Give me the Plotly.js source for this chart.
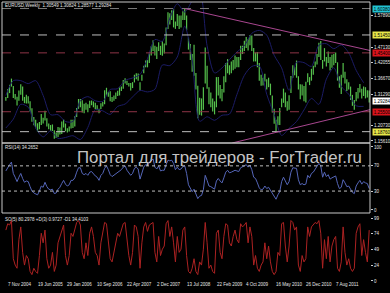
<!DOCTYPE html>
<html><head><meta charset="utf-8">
<script src="https://cdn.plot.ly/plotly-3.0.1.min.js"></script>
<style>html,body{margin:0;padding:0;background:#000;}#chart{width:390px;height:293px;}</style>
</head><body><div id="chart"></div>
<script>
const startDate = '2004-11-07';
const stepDays = 14;
const priceHigh = [1.305,1.332,1.346,1.367,1.342,1.315,1.306,1.327,1.348,1.340,
1.305,1.312,1.307,1.290,1.267,1.237,1.228,1.216,1.220,1.247,
1.235,1.258,1.233,1.215,1.210,1.212,1.192,1.185,1.203,1.202,
1.222,1.229,1.215,1.199,1.205,1.228,1.228,1.240,1.268,1.298,
1.298,1.294,1.282,1.285,1.280,1.292,1.293,1.290,1.285,1.277,
1.265,1.284,1.288,1.328,1.336,1.322,1.324,1.305,1.310,1.320,
1.326,1.337,1.340,1.362,1.368,1.360,1.352,1.352,1.355,1.380,
1.385,1.384,1.355,1.380,1.410,1.428,1.430,1.452,1.476,1.497,
1.478,1.475,1.490,1.478,1.493,1.486,1.540,1.591,1.588,1.598,
1.602,1.560,1.585,1.580,1.580,1.595,1.604,1.580,1.505,1.484,
1.450,1.481,1.386,1.343,1.302,1.300,1.338,1.472,1.410,1.338,
1.320,1.300,1.290,1.372,1.372,1.345,1.332,1.375,1.420,1.433,
1.412,1.425,1.430,1.445,1.440,1.440,1.478,1.478,1.495,1.508,
1.500,1.514,1.513,1.470,1.455,1.457,1.420,1.380,1.370,1.383,
1.365,1.370,1.350,1.310,1.265,1.228,1.240,1.268,1.300,1.333,
1.320,1.290,1.311,1.376,1.412,1.405,1.428,1.375,1.348,1.347,
1.342,1.356,1.385,1.372,1.400,1.410,1.425,1.450,1.488,1.494,
1.430,1.470,1.440,1.459,1.440,1.448,1.450,1.455,1.422,1.375,
1.380,1.420,1.390,1.365,1.355,1.340,1.312,1.295,1.322,1.335,
1.349,1.333,1.340,1.338,1.328,1.327];
const priceLow = [1.292,1.301,1.318,1.340,1.301,1.296,1.276,1.292,1.312,1.292,
1.284,1.283,1.283,1.255,1.221,1.209,1.199,1.187,1.196,1.210,
1.215,1.225,1.205,1.196,1.190,1.190,1.164,1.166,1.170,1.178,
1.180,1.202,1.189,1.185,1.188,1.198,1.200,1.205,1.237,1.265,
1.270,1.252,1.250,1.262,1.253,1.268,1.277,1.270,1.263,1.260,
1.250,1.264,1.273,1.280,1.310,1.306,1.290,1.288,1.292,1.298,
1.308,1.310,1.325,1.333,1.350,1.345,1.340,1.327,1.335,1.354,
1.365,1.360,1.326,1.360,1.385,1.405,1.405,1.420,1.445,1.460,
1.445,1.433,1.460,1.447,1.444,1.452,1.480,1.535,1.550,1.565,
1.540,1.535,1.545,1.535,1.540,1.565,1.565,1.530,1.465,1.430,
1.390,1.377,1.330,1.233,1.245,1.242,1.262,1.350,1.333,1.280,
1.270,1.256,1.246,1.270,1.310,1.300,1.290,1.320,1.355,1.385,
1.380,1.385,1.395,1.400,1.405,1.405,1.430,1.450,1.460,1.470,
1.462,1.480,1.460,1.425,1.425,1.405,1.360,1.343,1.344,1.357,
1.330,1.338,1.311,1.252,1.214,1.188,1.210,1.210,1.270,1.285,
1.270,1.258,1.262,1.318,1.370,1.378,1.370,1.330,1.297,1.310,
1.290,1.286,1.355,1.345,1.360,1.380,1.405,1.415,1.440,1.430,
1.400,1.425,1.408,1.420,1.394,1.404,1.412,1.420,1.360,1.336,
1.315,1.370,1.350,1.325,1.330,1.295,1.275,1.262,1.290,1.300,
1.320,1.300,1.308,1.300,1.303,1.286];
const bandUpper = [1.31,1.36,1.36,1.35,1.36,1.31,1.245,1.245,1.222,1.222,1.293,1.306,1.292,1.290,1.330,1.333,1.361,1.369,1.381,1.434,1.499,1.493,1.571,1.62,1.592,1.63,1.663,1.478,1.386,1.403,1.431,1.457,1.478,1.52,1.53,1.514,1.446,1.403,1.327,1.422,1.421,1.408,1.48,1.485,1.468,1.481,1.454,1.395,1.353];
const bandLower = [1.20,1.23,1.28,1.27,1.20,1.17,1.19,1.165,1.168,1.174,1.161,1.202,1.262,1.258,1.246,1.273,1.281,1.305,1.327,1.322,1.331,1.413,1.411,1.44,1.544,1.43,1.223,1.238,1.226,1.243,1.247,1.313,1.378,1.408,1.41,1.314,1.246,1.175,1.199,1.222,1.261,1.30,1.28,1.365,1.404,1.341,1.314,1.275,1.273];
const rsiValues = [62,68,72,76,58,52,45,52,58,50,
44,46,45,37,30,27,26,24,30,38,
36,44,37,33,32,33,26,27,33,36,
42,47,41,38,40,47,47,51,60,67,
67,58,56,58,55,60,61,57,54,52,
47,55,58,66,70,64,56,53,55,57,
60,62,64,68,70,63,59,55,58,66,
68,65,49,60,68,72,71,75,79,81,
68,65,70,62,63,63,72,79,78,79,
74,64,68,64,65,69,70,58,40,34,
29,33,24,18,22,23,32,55,47,38,
37,35,33,46,50,46,43,51,60,63,
59,60,61,63,62,61,67,68,70,72,
68,71,64,52,50,43,35,32,33,38,
34,36,31,25,20,17,24,29,45,52,
46,40,45,60,67,66,66,48,40,42,
40,41,55,51,58,60,65,68,74,70,
52,60,53,56,49,51,53,54,42,34,
36,48,43,37,38,33,28,26,38,43,
47,41,45,43,42,34];
const stochValues = [80,90,88,95,35,25,20,65,85,45,
25,40,35,15,10,20,15,12,40,75,
60,80,35,20,25,45,15,25,60,70,
80,88,40,25,40,75,70,80,92,95,
88,45,35,60,40,75,85,70,45,40,
25,60,75,92,90,60,35,30,45,65,
75,70,80,90,92,60,40,25,45,88,
85,70,20,60,85,92,78,88,90,92,
45,30,70,40,50,55,90,95,70,85,
60,30,70,45,50,80,85,40,15,12,
20,35,15,10,30,25,50,92,60,20,
25,15,12,75,80,45,35,70,90,88,
60,55,70,80,65,60,90,85,88,92,
60,85,70,25,40,20,15,25,30,60,
35,55,30,15,10,15,45,40,90,92,
55,30,55,95,92,80,85,25,15,40,
30,35,85,70,85,88,92,90,95,75,
20,65,35,70,30,55,65,70,20,15,
30,85,45,25,35,20,15,20,75,85,
90,40,65,45,30,80];
const priceTickVals = [1.5789,1.4713,1.4205,1.3667,1.3129,1.2073,1.1561];
const priceTickText = ['1.57890','1.47130','1.42055','1.36670','1.31290','1.20730','1.15610'];
const levelPrices = [1.6038,1.5145,1.4540,1.2550,1.1876];
const levelColors = ['#7c7c7c','#bdbdbd','#8e3447','#8e3447','#bdbdbd'];
const boxPrices = [1.6038,1.5145,1.4540,1.29284,1.2550,1.1876];
const boxText = ['1.60380','1.51450','1.45400','1.29284','1.25500','1.18760'];
const boxColors = ['#22c4d4','#e6e64a','#d8141c','#ffffff','#d8141c','#e6e64a'];
const trendUpper = {x:['2008-07-13','2012-05-05'], y:[1.6038,1.462]};
const trendLower = {x:['2009-07-05','2012-05-05'], y:[1.1494,1.262]};
const rsiTicks = [0,30,70,100];
const rsiLevels = [30,70];
const stochTicks = [0,24,49,74,99];
const dateLabelDates = ['2004-11-07','2005-06-19','2006-01-29','2006-09-10','2007-04-22','2007-12-02','2008-07-13','2009-02-22','2009-10-04','2010-05-16','2010-12-26','2011-08-07'];
const dateLabelText = ['7 Nov 2004','19 Jun 2005','29 Jan 2006','10 Sep 2006','22 Apr 2007','2 Dec 2007','13 Jul 2008','22 Feb 2009','4 Oct 2009','16 May 2010','26 Dec 2010','7 Aug 2011'];
const headerText = 'EURUSD,Weekly  1.30549 1.30824 1.28577 1.29284';
const rsiLabel = 'RSI(14) 34.2652';
const stochLabel = 'SO(5) 80.2978 +D(3) 0.9727 -D1 34.4103';
const watermark = 'Портал для трейдеров - ForTrader.ru';

const W = 390, H = 293;
const px = v => v / W;
const py = v => (H - v) / H;
const t0 = Date.UTC(2004, 10, 7);
const dates = priceHigh.map((_, i) => new Date(t0 + i * stepDays * 86400000).toISOString().slice(0, 10));
const bandDates = bandUpper.map((_, i) => dates[i * 4]);

const fontS = {family: 'Liberation Sans', size: 4.5, color: '#e6e6e6'};
const traces = [
  {type: 'scatter', mode: 'lines', x: bandDates, y: bandUpper, line: {color: '#1c1c66', width: 1, shape: 'spline', smoothing: 0.8}, xaxis: 'x', yaxis: 'y', hoverinfo: 'skip'},
  {type: 'scatter', mode: 'lines', x: bandDates, y: bandLower, line: {color: '#1c1c66', width: 1, shape: 'spline', smoothing: 0.8}, xaxis: 'x', yaxis: 'y', hoverinfo: 'skip'},
  {type: 'ohlc', x: dates, open: priceLow, high: priceHigh, low: priceLow, close: priceHigh, tickwidth: 0,
   increasing: {line: {color: '#55c04c', width: 1.2}}, decreasing: {line: {color: '#55c04c', width: 1.2}}, xaxis: 'x', yaxis: 'y'},
  {type: 'scatter', mode: 'lines', x: dates, y: rsiValues, line: {color: '#5566b8', width: 1}, xaxis: 'x', yaxis: 'y2'},
  {type: 'scatter', mode: 'lines', x: dates, y: stochValues, line: {color: '#ac2222', width: 1}, xaxis: 'x', yaxis: 'y3'}
];

const shapes = [];
levelPrices.forEach((p, i) => shapes.push({type: 'line', xref: 'paper', yref: 'y', x0: px(2), x1: px(370), y0: p, y1: p, line: {color: levelColors[i], width: 1, dash: 'dash'}}));
[trendUpper, trendLower].forEach(t => shapes.push({type: 'line', xref: 'x', yref: 'y', x0: t.x[0], x1: t.x[1], y0: t.y[0], y1: t.y[1], line: {color: '#a8468f', width: 1}}));
rsiLevels.forEach(l => shapes.push({type: 'line', xref: 'paper', yref: 'y2', x0: px(2), x1: px(370), y0: l, y1: l, line: {color: '#bdbdbd', width: 1, dash: 'dot'}}));
shapes.push({type: 'rect', xref: 'paper', yref: 'paper', x0: px(2), x1: px(370), y0: py(143), y1: py(2), line: {color: '#c8c8c8', width: 1}});
shapes.push({type: 'rect', xref: 'paper', yref: 'paper', x0: px(2), x1: px(370), y0: py(213), y1: py(143), line: {color: '#c8c8c8', width: 1}});

const annotations = [];
boxPrices.forEach((p, i) => annotations.push({xref: 'paper', yref: 'y', x: px(372), y: p, xanchor: 'left', yanchor: 'middle', text: boxText[i], showarrow: false, bgcolor: boxColors[i], font: {family: 'Liberation Sans', size: 4.5, color: '#000'}, borderpad: 0.7}));
dateLabelDates.forEach((d, i) => annotations.push({xref: 'x', yref: 'paper', x: d, y: py(284), xanchor: 'left', yanchor: 'middle', text: dateLabelText[i], showarrow: false, font: fontS}));
annotations.push({xref: 'paper', yref: 'paper', x: px(3), y: py(6), xanchor: 'left', yanchor: 'middle', text: headerText, showarrow: false, font: fontS});
annotations.push({xref: 'paper', yref: 'paper', x: px(3), y: py(147.5), xanchor: 'left', yanchor: 'middle', text: rsiLabel, showarrow: false, font: fontS});
annotations.push({xref: 'paper', yref: 'paper', x: px(3), y: py(219), xanchor: 'left', yanchor: 'middle', text: stochLabel, showarrow: false, font: fontS});
annotations.push({xref: 'paper', yref: 'paper', x: px(219), y: py(157), xanchor: 'center', yanchor: 'middle', text: watermark, showarrow: false, font: {family: 'Liberation Sans', size: 16.8, color: '#c4c4c4'}});

const yCommon = {side: 'right', anchor: 'x', showgrid: false, zeroline: false, showline: false, ticks: 'outside', ticklen: 2, tickcolor: '#cccccc', tickfont: fontS, fixedrange: true};
const layout = {
  width: W, height: H, margin: {l: 0, r: 0, t: 0, b: 0},
  paper_bgcolor: '#000', plot_bgcolor: '#000', showlegend: false,
  xaxis: {domain: [px(2), px(370)], range: ['2004-10-09', '2012-05-05'], type: 'date', showgrid: false, zeroline: false, showticklabels: false, ticks: '', rangeslider: {visible: false}},
  yaxis: Object.assign({}, yCommon, {domain: [py(143), py(2)], range: [1.1493, 1.6259], tickvals: priceTickVals, ticktext: priceTickText}),
  yaxis2: Object.assign({}, yCommon, {domain: [py(213), py(143)], range: [-4.8, 106.3], tickvals: rsiTicks, ticktext: rsiTicks.map(String)}),
  yaxis3: Object.assign({}, yCommon, {domain: [py(282), py(214)], range: [-1.6, 105.3], tickvals: stochTicks, ticktext: stochTicks.map(String)}),
  shapes: shapes, annotations: annotations
};
Plotly.newPlot('chart', traces, layout, {staticPlot: true, displayModeBar: false});
</script></body></html>
